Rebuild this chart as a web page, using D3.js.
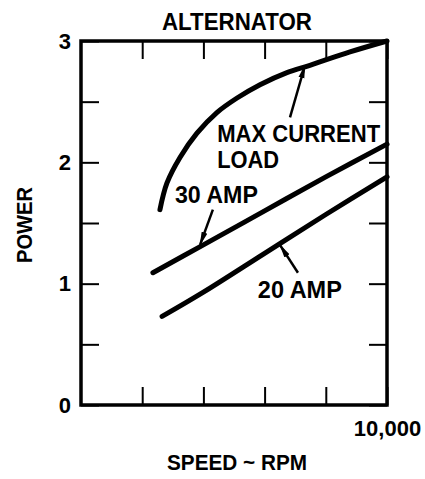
<!DOCTYPE html>
<html>
<head>
<meta charset="utf-8">
<script src="https://cdn.jsdelivr.net/npm/d3@7"></script>
<style>
  body { margin: 0; background: #fff; }
  text { font-family: "Liberation Sans", Arial, sans-serif; font-weight: bold; fill: #000; }
</style>
</head>
<body>
<script>
// curves (speed in rpm, power in relative units)
const maxRpm = [2580, 2810, 3235, 3790, 4440, 5100, 5850, 6730, 7480, 8790, 10000]
const maxPower = [1.61, 1.83, 2.04, 2.24, 2.41, 2.53, 2.64, 2.74, 2.80, 2.91, 3.0]
const amp30Rpm = [2350, 4000, 6000, 8000, 10000]
const amp30Power = [1.09, 1.32, 1.60, 1.88, 2.15]
const amp20Rpm = [2650, 4000, 6000, 8000, 10000]
const amp20Power = [0.73, 0.93, 1.25, 1.57, 1.88]

const xTicks = [2000, 4000, 6000, 8000, 10000]
const yTicks = [0, 0.5, 1, 1.5, 2, 2.5, 3]
const yLabels = ['0', '', '1', '', '2', '', '3']

const width = 425, height = 479
const frame = { left: 81, right: 387, top: 41, bottom: 405 }

const svg = d3.select('body')
  .append('svg')
  .attr('width', width)
  .attr('height', height)

const x = d3.scaleLinear().domain([0, 10000]).range([frame.left, frame.right])
const y = d3.scaleLinear().domain([0, 3]).range([frame.bottom, frame.top])

// axes, ticks pointing inward
const tickLen = 18
svg.append('g')
  .attr('transform', 'translate(0,' + frame.bottom + ')')
  .call(d3.axisBottom(x).tickValues(xTicks).tickSize(-tickLen).tickPadding(15)
    .tickFormat(d => d === 10000 ? '10,000' : ''))
svg.append('g')
  .attr('transform', 'translate(0,' + frame.top + ')')
  .call(d3.axisTop(x).tickValues(xTicks).tickSize(-tickLen).tickFormat(''))
svg.append('g')
  .attr('transform', 'translate(' + frame.left + ',0)')
  .call(d3.axisLeft(y).tickValues(yTicks).tickSize(-tickLen).tickPadding(10)
    .tickFormat((d, i) => yLabels[i]))
svg.append('g')
  .attr('transform', 'translate(' + frame.right + ',0)')
  .call(d3.axisRight(y).tickValues(yTicks).tickSize(-tickLen).tickFormat(''))

svg.selectAll('.domain').remove()
svg.selectAll('.tick line').attr('stroke', '#000').attr('stroke-width', 2)
svg.selectAll('.tick text')
  .style('font-size', '22px')
  .style('font-family', '"Liberation Sans", Arial, sans-serif')
  .style('font-weight', 'bold')
  .attr('fill', '#000')

svg.append('rect')
  .attr('x', frame.left)
  .attr('y', frame.top)
  .attr('width', frame.right - frame.left)
  .attr('height', frame.bottom - frame.top)
  .attr('fill', 'none')
  .attr('stroke', '#000')
  .attr('stroke-width', 3.5)

// curves
const line = d3.line()
  .x(d => x(d[0]))
  .y(d => y(d[1]))
  .curve(d3.curveCatmullRom.alpha(0.5))

const series = [
  d3.zip(maxRpm, maxPower),
  d3.zip(amp30Rpm, amp30Power),
  d3.zip(amp20Rpm, amp20Power),
]

svg.selectAll('path.curve')
  .data(series)
  .enter()
  .append('path')
  .attr('class', 'curve')
  .attr('d', line)
  .attr('fill', 'none')
  .attr('stroke', '#000')
  .attr('stroke-width', 5)
  .attr('stroke-linecap', 'round')

// arrows from labels to curves
svg.append('defs').append('marker')
  .attr('id', 'head')
  .attr('viewBox', '0 -4 14 8')
  .attr('refX', 13)
  .attr('refY', 0)
  .attr('markerUnits', 'userSpaceOnUse')
  .attr('markerWidth', 14)
  .attr('markerHeight', 8)
  .attr('orient', 'auto')
  .append('path')
  .attr('d', 'M0,-3L14,0L0,3Z')
  .attr('fill', '#000')

const arrows = [
  { from: [6830, 2.37], to: [7320, 2.80] },
  { from: [4310, 1.61], to: [3890, 1.32] },
  { from: [7090, 1.09], to: [6500, 1.32] },
]
svg.selectAll('line.arrow')
  .data(arrows)
  .enter()
  .append('line')
  .attr('class', 'arrow')
  .attr('x1', d => x(d.from[0]))
  .attr('y1', d => y(d.from[1]))
  .attr('x2', d => x(d.to[0]))
  .attr('y2', d => y(d.to[1]))
  .attr('stroke', '#000')
  .attr('stroke-width', 2.5)
  .attr('marker-end', 'url(#head)')

// labels
const labels = [
  { text: 'MAX CURRENT', rpm: 4450, power: 2.17, len: 163 },
  { text: 'LOAD', rpm: 4450, power: 1.955, len: 62 },
  { text: '30 AMP', rpm: 3070, power: 1.665, len: 83 },
  { text: '20 AMP', rpm: 5780, power: 0.885, len: 84 },
]
svg.selectAll('text.label')
  .data(labels)
  .enter()
  .append('text')
  .attr('class', 'label')
  .attr('x', d => x(d.rpm))
  .attr('y', d => y(d.power))
  .attr('textLength', d => d.len)
  .attr('lengthAdjust', 'spacingAndGlyphs')
  .style('font-size', '23px')
  .text(d => d.text)

svg.append('text')
  .attr('x', 237)
  .attr('y', 30)
  .attr('text-anchor', 'middle')
  .attr('textLength', 150)
  .attr('lengthAdjust', 'spacingAndGlyphs')
  .style('font-size', '23px')
  .text('ALTERNATOR')

svg.append('text')
  .attr('x', 237)
  .attr('y', 470)
  .attr('text-anchor', 'middle')
  .attr('textLength', 140)
  .attr('lengthAdjust', 'spacingAndGlyphs')
  .style('font-size', '22px')
  .text('SPEED ~ RPM')

svg.append('text')
  .attr('transform', 'translate(32,225)rotate(-90)')
  .attr('text-anchor', 'middle')
  .attr('textLength', 76)
  .attr('lengthAdjust', 'spacingAndGlyphs')
  .style('font-size', '22px')
  .text('POWER')
</script>
</body>
</html>
